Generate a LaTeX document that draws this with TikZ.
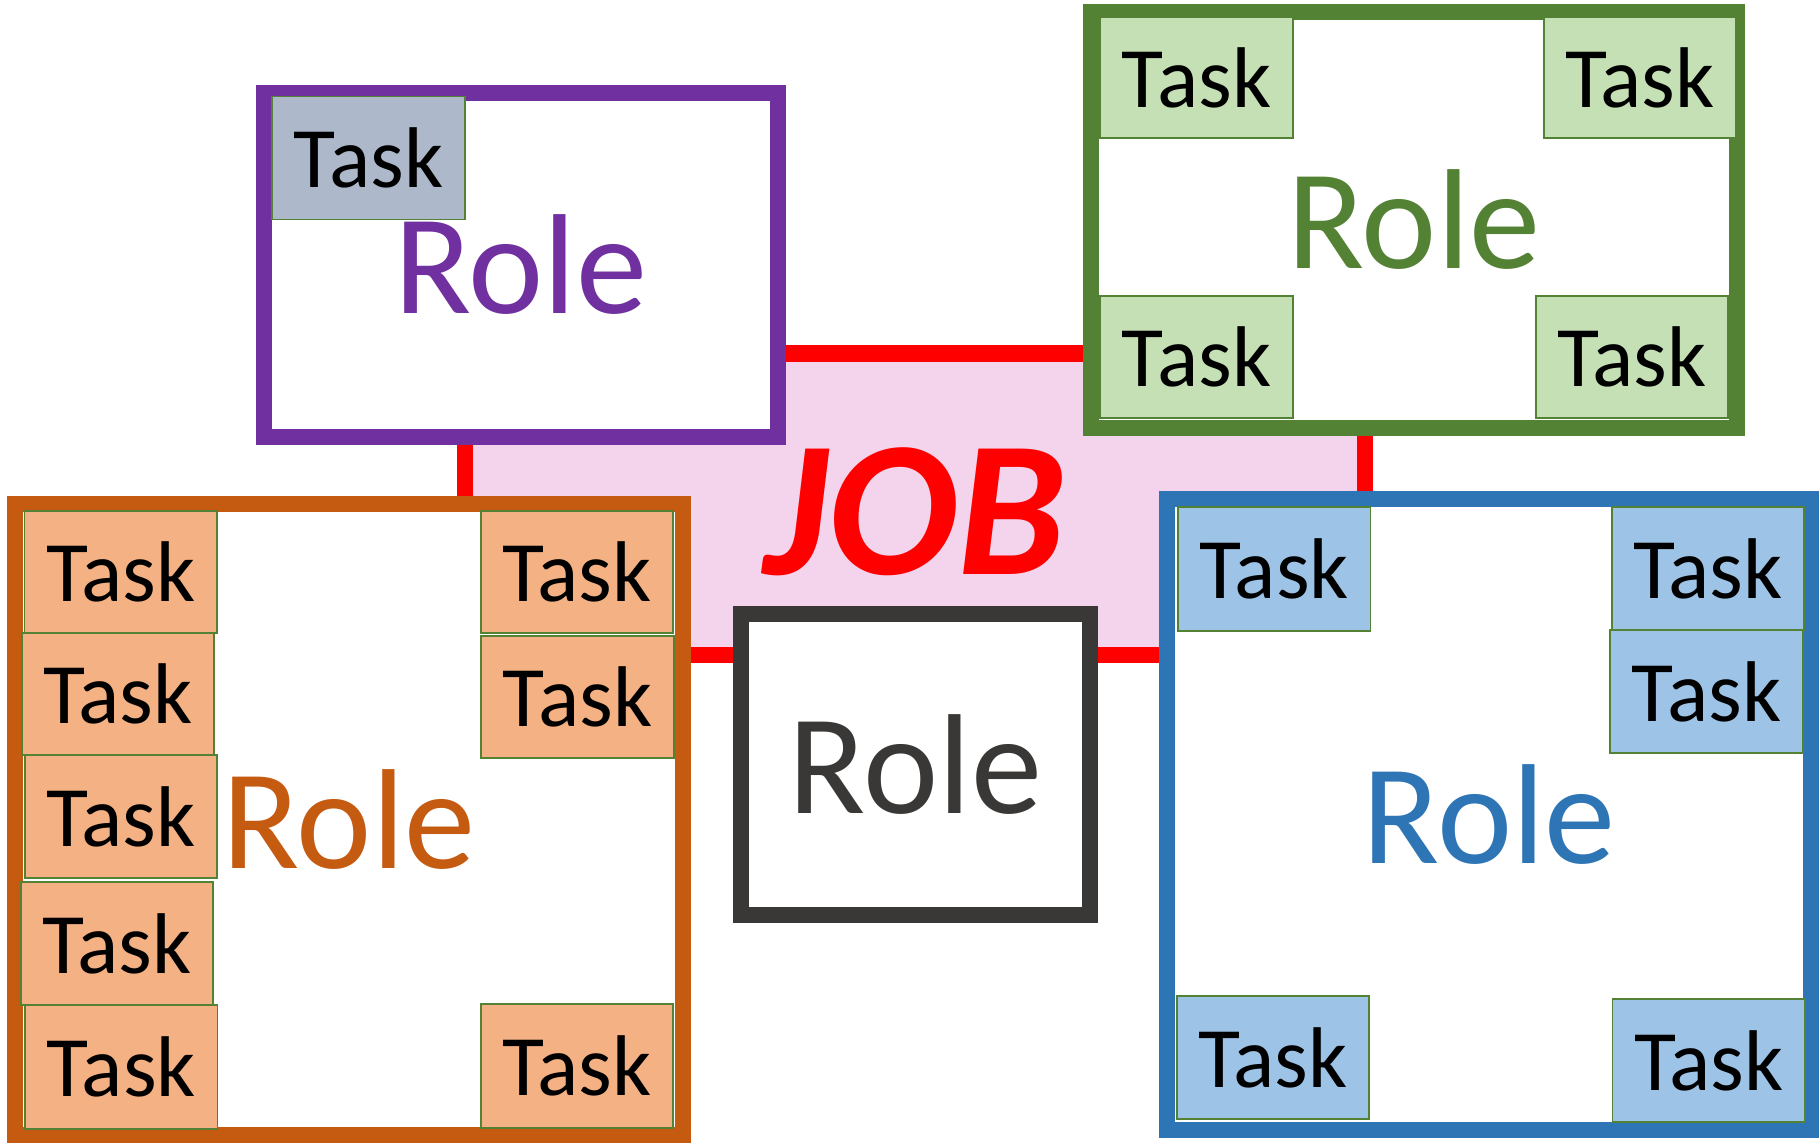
\documentclass[tikz,border=0pt]{standalone}
\usepackage{fontspec}
\setmainfont{Carlito}
\definecolor{purp}{HTML}{7030A0}
\definecolor{grn}{HTML}{548235}
\definecolor{grntask}{HTML}{C5E0B4}
\definecolor{org}{HTML}{C55A11}
\definecolor{orgtask}{HTML}{F4B183}
\definecolor{blu}{HTML}{2E75B6}
\definecolor{blutask}{HTML}{9DC3E6}
\definecolor{blk}{HTML}{3A3836}
\definecolor{graytask}{HTML}{ADB9CA}
\definecolor{pinkfill}{HTML}{F3D4EC}
\definecolor{jobred}{HTML}{FF0000}
\definecolor{taskedge}{HTML}{548235}
\begin{document}
\begin{tikzpicture}[x=0.01cm,y=-0.01cm,
  jobbox/.style={draw=jobred, fill=pinkfill, line width=4.6pt, inner sep=0pt,
    minimum width=9cm, minimum height=3.015cm, text height=40pt, text depth=0pt,
    text=jobred, font=\fontsize{55}{60}\selectfont\bfseries\itshape},
  rolebox/.style={draw=#1, text=#1, fill=white, line width=4.6pt, inner sep=0pt,
    font=\fontsize{40.5}{48}\selectfont},
  taskbox/.style={draw=taskedge, fill=#1, line width=0.5pt, inner sep=0pt,
    minimum width=1.925cm, minimum height=1.23cm,
    text=black, font=\fontsize{24.5}{30}\selectfont}]
\useasboundingbox (0,0) rectangle (1819,1146);
\fill[white] (0,0) rectangle (1819,1146);
% job
\node[jobbox] (job) at (915,504.25) {JOB};
% roles
\node[rolebox=purp, minimum width=5.135cm, minimum height=3.44cm] (rpurple) at (520.75,265) {Role};
\node[rolebox=grn, minimum width=6.46cm, minimum height=4.16cm] (rgreen) at (1414,220) {Role};
\node[rolebox=org, minimum width=6.67cm, minimum height=6.305cm] (rorange) at (349,819.25) {Role};
\node[rolebox=blk, minimum width=3.49cm, minimum height=3.01cm] (rblack) at (915.5,764.5) {Role};
\node[rolebox=blu, minimum width=6.435cm, minimum height=6.305cm] (rblue) at (1489.25,814.25) {Role};
% purple task
\node[taskbox=graytask] (tp1) at (368.5,158) {Task};
% green tasks
\node[taskbox=grntask, minimum height=1.21cm] (tg1) at (1196.5,77.5) {Task};
\node[taskbox=grntask, minimum height=1.21cm] (tg2) at (1640,77.5) {Task};
\node[taskbox=grntask, minimum height=1.22cm] (tg3) at (1196.5,357) {Task};
\node[taskbox=grntask, minimum height=1.22cm] (tg4) at (1632,357) {Task};
% orange tasks
\node[taskbox=orgtask, minimum height=1.22cm] (to1) at (120.75,572) {Task};
\node[taskbox=orgtask, minimum height=1.22cm] (to2) at (118,694) {Task};
\node[taskbox=orgtask] (to3) at (121,816.5) {Task};
\node[taskbox=orgtask] (to4) at (117,943.5) {Task};
\node[taskbox=orgtask, minimum height=1.24cm] (to5) at (121.25,1067) {Task};
\node[taskbox=orgtask, minimum height=1.22cm] (to6) at (577,572) {Task};
\node[taskbox=orgtask, minimum height=1.22cm] (to7) at (577.5,697) {Task};
\node[taskbox=orgtask, minimum height=1.24cm] (to8) at (577,1066) {Task};
% blue tasks
\node[taskbox=blutask, minimum height=1.24cm] (tb1) at (1274.25,569) {Task};
\node[taskbox=blutask] (tb2) at (1708,568.5) {Task};
\node[taskbox=blutask] (tb3) at (1706.5,691.5) {Task};
\node[taskbox=blutask] (tb4) at (1273,1057.5) {Task};
\node[taskbox=blutask] (tb5) at (1708.75,1060.5) {Task};
\end{tikzpicture}
\end{document}
